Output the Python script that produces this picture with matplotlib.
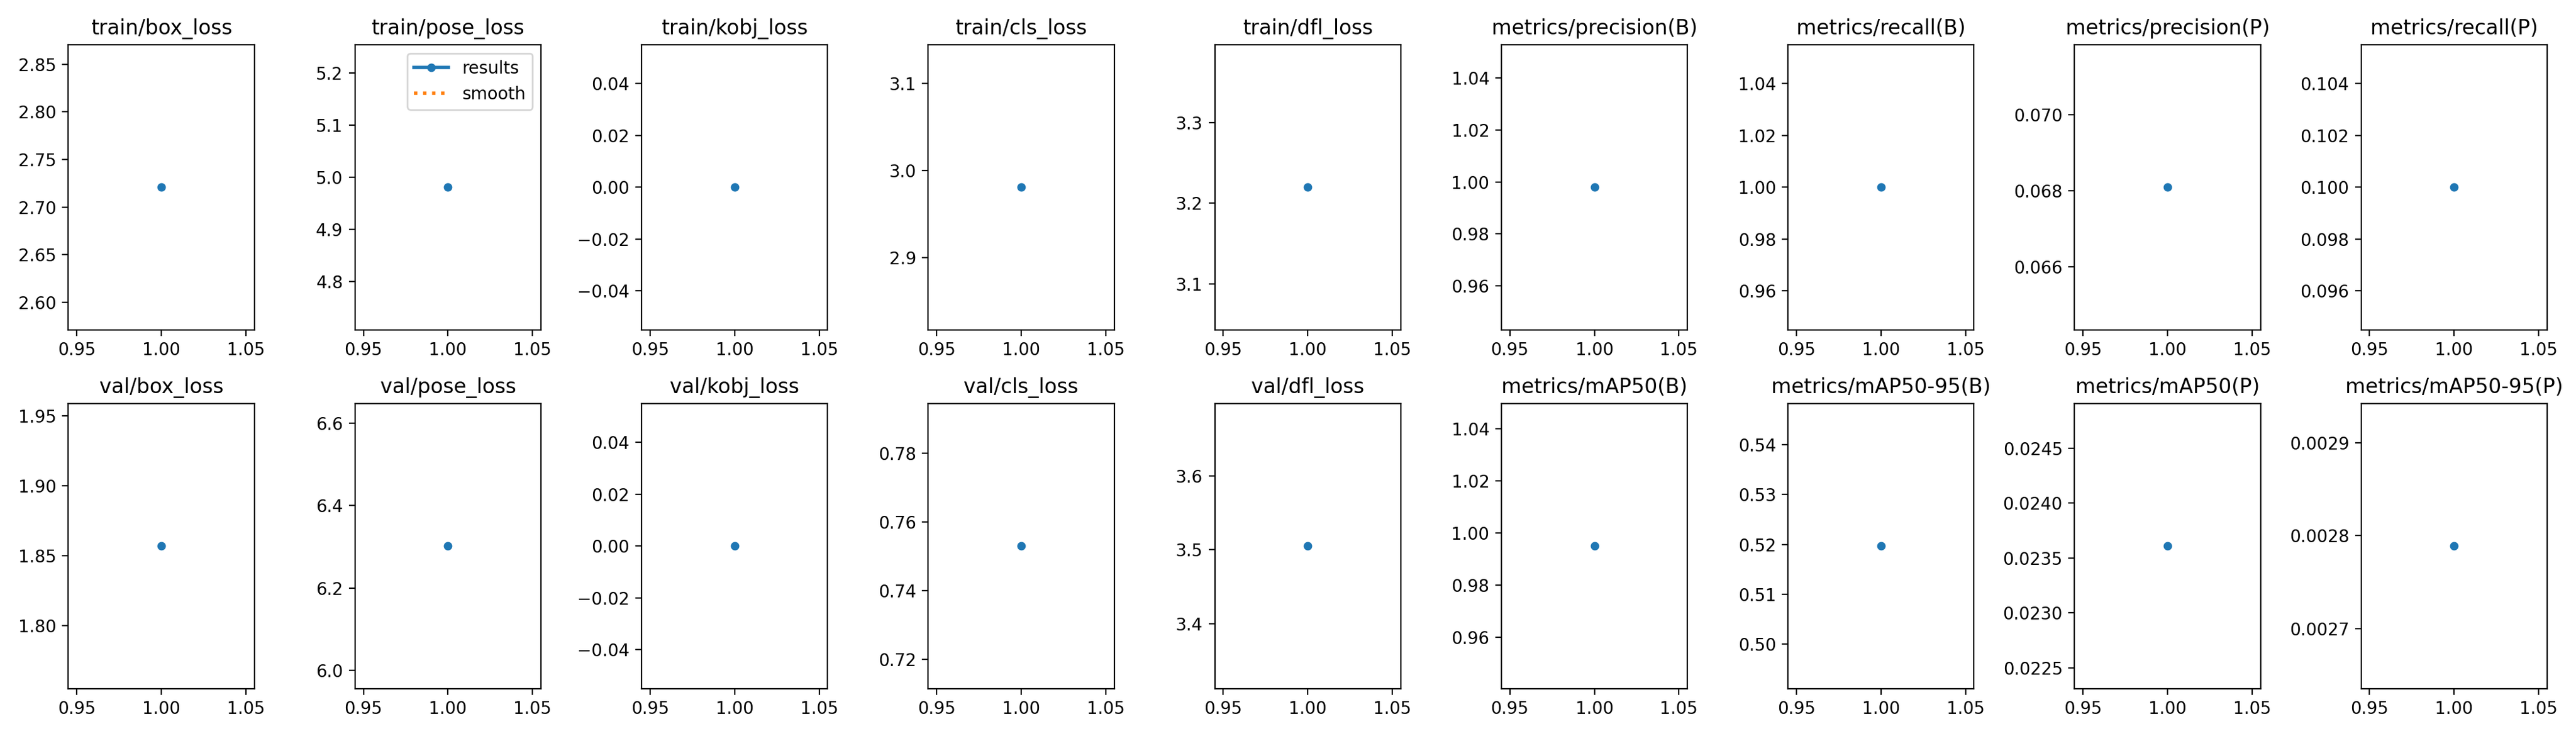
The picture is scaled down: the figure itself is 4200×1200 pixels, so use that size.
import matplotlib
matplotlib.use('Agg')
import matplotlib.pyplot as plt
from matplotlib.ticker import MaxNLocator
import numpy as np

titles = ['train/box_loss', 'train/pose_loss', 'train/kobj_loss', 'train/cls_loss', 'train/dfl_loss',
          'metrics/precision(B)', 'metrics/recall(B)', 'metrics/precision(P)', 'metrics/recall(P)',
          'val/box_loss', 'val/pose_loss', 'val/kobj_loss', 'val/cls_loss', 'val/dfl_loss',
          'metrics/mAP50(B)', 'metrics/mAP50-95(B)', 'metrics/mAP50(P)', 'metrics/mAP50-95(P)']
epochs = [1]
values = [2.721, 4.981, 0.0, 2.981, 3.220, 0.998, 1.0, 0.0681, 0.1,
          1.857, 6.302, 0.0, 0.753, 3.505, 0.995, 0.5197, 0.02361, 0.002789]

fig, ax = plt.subplots(2, 9, figsize=(21, 6), tight_layout=True)
ax = ax.ravel()
for i, (t, v) in enumerate(zip(titles, values)):
    y = np.array([v])
    ax[i].plot(epochs, y, marker='.', label='results', linewidth=2, markersize=8)
    ax[i].plot(epochs, y, ':', label='smooth', linewidth=2)
    ax[i].set_title(t, fontsize=12)
    ax[i].yaxis.set_major_locator(MaxNLocator(nbins=6, steps=[1, 2, 2.5, 5, 10]))
ax[1].legend()
fig.savefig('out.png', dpi=200)
